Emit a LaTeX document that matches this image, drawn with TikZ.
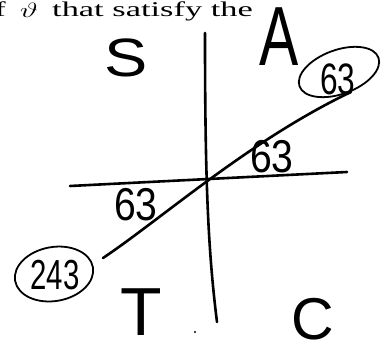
\documentclass[tikz,border=0pt]{standalone}
\usepackage{graphicx}
\usepackage{fontspec}
\setmainfont{Liberation Serif}
\newfontfamily\hand{Liberation Sans}
\begin{document}
\begin{tikzpicture}[x=1pt,y=-1pt,
  stroke/.style={line width=2.6pt, line cap=round},
  ringline/.style={line width=1.8pt},
  hw/.style={inner sep=0pt, font=\hand},
  printed/.style={inner sep=0pt, font=\fontsize{20}{20}\selectfont},
]
\useasboundingbox (0,0) rectangle (384,352);
% printed text at top
\node[printed, anchor=base east] (pf) at (6,17) {\scalebox{1.55}[1.05]{f}};
\node[printed, anchor=base] (pth) at (29,18) {\scalebox{1.5}[1.0]{$\vartheta$}};
\node[printed, anchor=base west] (ptxt) at (52,17) {\scalebox{1.72}[1.05]{that satisfy the}};
% axes
\coordinate (vt) at (205,33);
\coordinate (vb) at (217,322);
\coordinate (hl) at (70,186);
\coordinate (hr) at (347,172);
\coordinate (dl) at (103,258);
\coordinate (dr) at (351,92);
\draw[stroke] (vt) .. controls (205,180) and (208,250) .. (vb);
\draw[stroke] (hl) -- (hr);
\draw[stroke] (dl) .. controls (160,220) and (250,140) .. (dr);
% ring labels
\node[hw, font=\hand\fontsize{44}{44}\selectfont, xscale=0.72] (n63a) at (338,79) {63};
\node[hw, font=\hand\fontsize{42}{42}\selectfont, xscale=0.7] (n243) at (55,275) {243};
% rings
\coordinate (c63) at (339,72);
\coordinate (c243) at (54,274);
\draw[ringline, rotate around={20:(c63)}] (c63) ellipse [x radius=42pt, y radius=22pt];
\draw[ringline, rotate around={10:(c243)}] (c243) ellipse [x radius=39.5pt, y radius=27pt];
% quadrant labels
\node[hw, font=\hand\fontsize{54}{54}\selectfont, xscale=1.2] (S) at (126,58) {S};
\node[hw, font=\hand\fontsize{84}{84}\selectfont, xscale=0.7] (A) at (279,37) {A};
\node[hw, font=\hand\fontsize{68}{68}\selectfont] (T) at (141,312) {T};
\node[hw, font=\hand\fontsize{59}{59}\selectfont] (C) at (313,319) {C};
% angle labels
\node[hw, font=\hand\fontsize{46}{46}\selectfont, xscale=0.85] (n63b) at (272,157) {63};
\node[hw, font=\hand\fontsize{46}{46}\selectfont, xscale=0.85] (n63c) at (136,205) {63};
% stray dot
\fill (195,332) circle (1.2pt);
\end{tikzpicture}
\end{document}
